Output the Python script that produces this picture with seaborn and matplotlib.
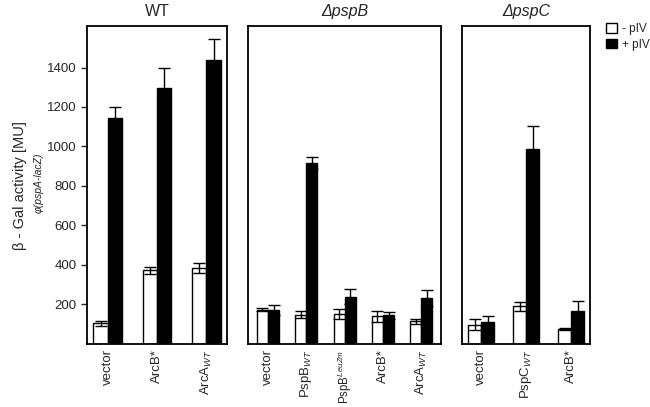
import numpy as np
import pandas as pd
import seaborn as sns
import matplotlib.pyplot as plt
from matplotlib.patches import Patch

# values (Miller units)
titles = ["WT", "ΔpspB", "ΔpspC"]

wt_labels = ["vector", "ArcB*", r"ArcA$_{WT}$"]
wt_minus = [105, 372, 385]
wt_minus_err = [12, 18, 25]
wt_plus = [1145, 1295, 1440]
wt_plus_err = [57, 105, 103]

pspb_labels = ["vector", r"PspB$_{WT}$", r"PspB$^{LeuZm}$", "ArcB*", r"ArcA$_{WT}$"]
pspb_minus = [173, 147, 153, 139, 114]
pspb_minus_err = [8, 18, 26, 27, 14]
pspb_plus = [173, 915, 240, 144, 232]
pspb_plus_err = [25, 30, 39, 20, 42]

pspc_labels = ["vector", r"PspC$_{WT}$", "ArcB*"]
pspc_minus = [97, 190, 75]
pspc_minus_err = [27, 21, 5]
pspc_plus = [110, 985, 166]
pspc_plus_err = [29, 120, 49]

hue_levels = ["- pIV", "+ pIV"]

sns.set_style("white")
plt.rcParams["font.family"] = ["Liberation Sans", "DejaVu Sans"]
plt.rcParams["mathtext.fontset"] = "custom"
plt.rcParams["mathtext.rm"] = "Liberation Sans"
plt.rcParams["mathtext.it"] = "Liberation Sans:italic"


def make_df(labels, minus, plus):
    rows = []
    for lab, m, p in zip(labels, minus, plus):
        rows.append({"construct": lab, "pIV": "- pIV", "value": m})
        rows.append({"construct": lab, "pIV": "+ pIV", "value": p})
    return pd.DataFrame(rows)


panels = [
    (wt_labels, wt_minus, wt_minus_err, wt_plus, wt_plus_err),
    (pspb_labels, pspb_minus, pspb_minus_err, pspb_plus, pspb_plus_err),
    (pspc_labels, pspc_minus, pspc_minus_err, pspc_plus, pspc_plus_err),
]

fig, axes = plt.subplots(1, 3, figsize=(6.5, 4.07), dpi=100, sharey=True,
                         gridspec_kw={"width_ratios": [140, 193, 128]})
fig.subplots_adjust(left=0.134, right=0.908, top=0.936, bottom=0.155, wspace=0.137)

for ax, title, (labels, mn, mn_err, pl, pl_err) in zip(axes, titles, panels):
    df = make_df(labels, mn, pl)
    sns.barplot(data=df, x="construct", y="value", hue="pIV", hue_order=hue_levels,
                palette={"- pIV": "white", "+ pIV": "black"}, edgecolor="black",
                linewidth=1, width=0.58, errorbar=None, legend=False, ax=ax)
    for cont, errs in zip(ax.containers, [mn_err, pl_err]):
        xs = [b.get_x() + b.get_width() / 2 for b in cont]
        ys = [b.get_height() for b in cont]
        ax.errorbar(xs, ys, yerr=errs, fmt="none", ecolor="black",
                    elinewidth=1, capsize=4, capthick=1)
    ax.set_ylim(0, 1610)
    ax.set_xlabel("")
    ax.set_ylabel("")
    ax.set_title(title, fontsize=11.5, pad=7,
                 style="normal" if title == "WT" else "italic")
    ax.tick_params(axis="x", length=0, labelrotation=90, labelsize=9.5, pad=4)
    for sp in ax.spines.values():
        sp.set_visible(True)
        sp.set_linewidth(1.3)
        sp.set_color("black")

# the long superscript label needs a little less room
for t in axes[1].get_xticklabels():
    if "LeuZm" in t.get_text():
        t.set_fontsize(8.3)

axes[0].set_yticks([200, 400, 600, 800, 1000, 1200, 1400])
axes[0].tick_params(axis="y", length=4, width=1, labelsize=9.5, left=True, direction="out")
for ax in axes[1:]:
    ax.tick_params(axis="y", left=False, labelleft=False)

fig.text(0.031, 0.545, "β - Gal activity [MU]", rotation=90, ha="center", va="center",
         fontsize=10.5)
fig.text(0.06, 0.55, "φ(pspA-lacZ)", rotation=90, ha="center", va="center",
         fontsize=7.5, style="italic")

handles = [Patch(facecolor="white", edgecolor="black", label="- pIV"),
           Patch(facecolor="black", edgecolor="black", label="+ pIV")]
fig.legend(handles=handles, loc="upper left", bbox_to_anchor=(0.925, 0.955),
           frameon=False, fontsize=8.5, handlelength=0.9, handleheight=0.9,
           handletextpad=0.5, labelspacing=0.3, borderaxespad=0)

plt.savefig("out.png", dpi=100)
